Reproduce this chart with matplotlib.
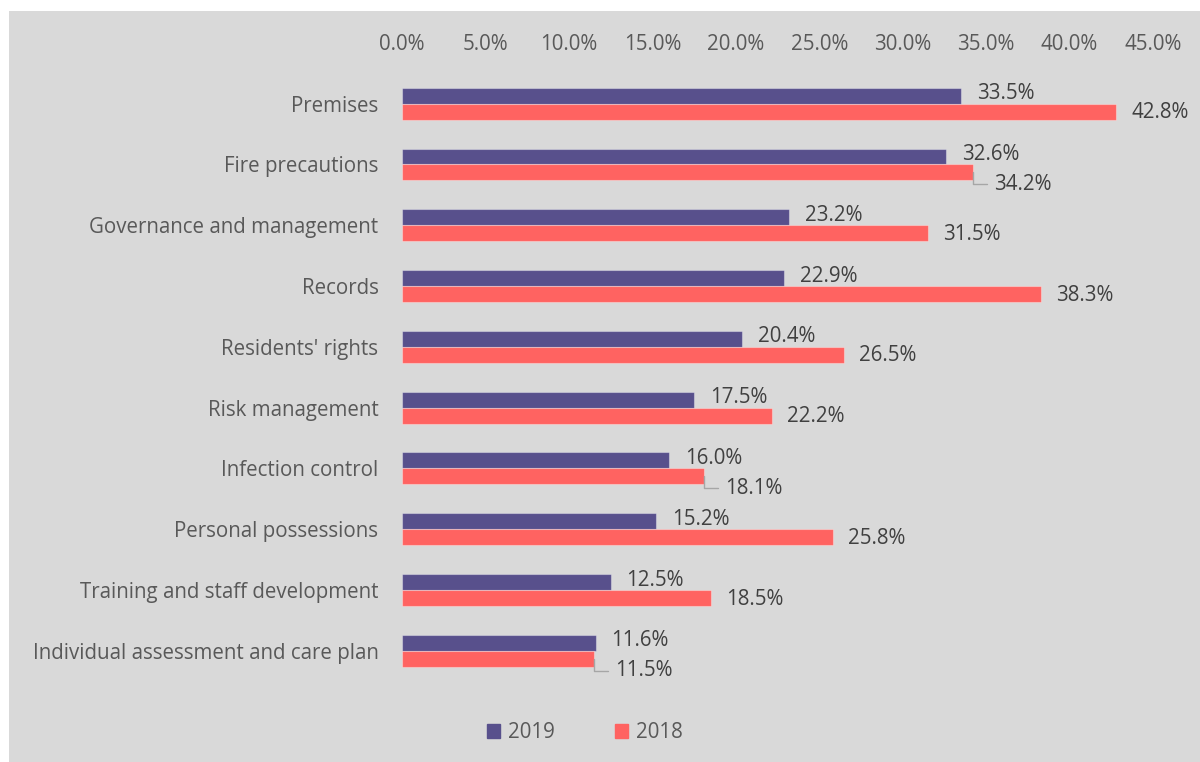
import matplotlib.pyplot as plt
from matplotlib.patches import Rectangle, Patch
from matplotlib.ticker import FuncFormatter

# datos
categorias = ["Premises", "Fire precautions", "Governance and management", "Records",
              "Residents' rights", "Risk management", "Infection control",
              "Personal possessions", "Training and staff development",
              "Individual assessment and care plan"]
v2019 = [33.5, 32.6, 23.2, 22.9, 20.4, 17.5, 16.0, 15.2, 12.5, 11.6]
v2018 = [42.8, 34.2, 31.5, 38.3, 26.5, 22.2, 18.1, 25.8, 18.5, 11.5]
xticks = [0, 5, 10, 15, 20, 25, 30, 35, 40, 45]

C2019 = '#58508c'
C2018 = '#ff6361'
FONDO = '#d9d9d9'
GRIS_TXT = '#595959'
OSCURO = '#404040'

plt.rcParams['font.family'] = ['Open Sans', 'DejaVu Sans']
FS = 14.8

fig = plt.figure(figsize=(12, 7.62), dpi=100)
fig.patch.set_facecolor('white')
fig.patches.append(Rectangle((9/1200, 0), 1 - 9/1200, 1 - 11/762,
                             transform=fig.transFigure, facecolor=FONDO,
                             edgecolor='none', zorder=-10))

ax = fig.add_axes([402/1200, 0.106, 751/1200, 0.7978])
ax.set_facecolor('none')

h = 0.263
ys = list(range(len(categorias)))
ax.barh([y - h/2 for y in ys], v2019, height=h, color=C2019,
        edgecolor=(1, 1, 1, 0.35), linewidth=0.8)
ax.barh([y + h/2 for y in ys], v2018, height=h, color=C2018,
        edgecolor=(1, 1, 1, 0.35), linewidth=0.8)

ax.set_xlim(0, 45)
ax.set_ylim(len(categorias) - 0.5, -0.5)
ax.set_xticks(xticks)
ax.xaxis.set_major_formatter(FuncFormatter(lambda v, p: f'{v:.1f}%'))
ax.xaxis.tick_top()
ax.tick_params(axis='x', length=0, pad=13, labelsize=FS, labelcolor=GRIS_TXT)
ax.set_yticks(ys)
ax.set_yticklabels(categorias)
ax.tick_params(axis='y', length=0, pad=17, labelsize=FS, labelcolor=GRIS_TXT)
for s in ax.spines.values():
    s.set_visible(False)

# etiquetas de datos
for y, a, b in zip(ys, v2019, v2018):
    ax.annotate(f'{a:.1f}%', (a, y - h/2), xytext=(16, 2), textcoords='offset pixels',
                ha='left', va='center', fontsize=FS, color=OSCURO)
    if b - a < 4:
        # etiqueta desplazada con línea guía
        ax.annotate(f'{b:.1f}%', (b, y + h/2), xytext=(21, -12), textcoords='offset pixels',
                    ha='left', va='center', fontsize=FS, color=OSCURO,
                    arrowprops=dict(arrowstyle='-', color='#a6a6a6', lw=1,
                                    connectionstyle='angle,angleA=0,angleB=90,rad=0',
                                    relpos=(0, 0.5), shrinkA=3, shrinkB=0))
    else:
        ax.annotate(f'{b:.1f}%', (b, y + h/2), xytext=(15, -1), textcoords='offset pixels',
                    ha='left', va='center', fontsize=FS, color=OSCURO)

handles = [Patch(color=C2019, label='2019'), Patch(color=C2018, label='2018')]
leg = fig.legend(handles=handles, loc='center', bbox_to_anchor=(585/1200, 1 - 733/762),
                 ncol=2, frameon=False, handlelength=0.65, handleheight=0.65,
                 handletextpad=0.4, columnspacing=2.9, fontsize=FS)
for t in leg.get_texts():
    t.set_color(GRIS_TXT)

plt.savefig('out.png', dpi=100, facecolor=fig.get_facecolor())
plt.close()
